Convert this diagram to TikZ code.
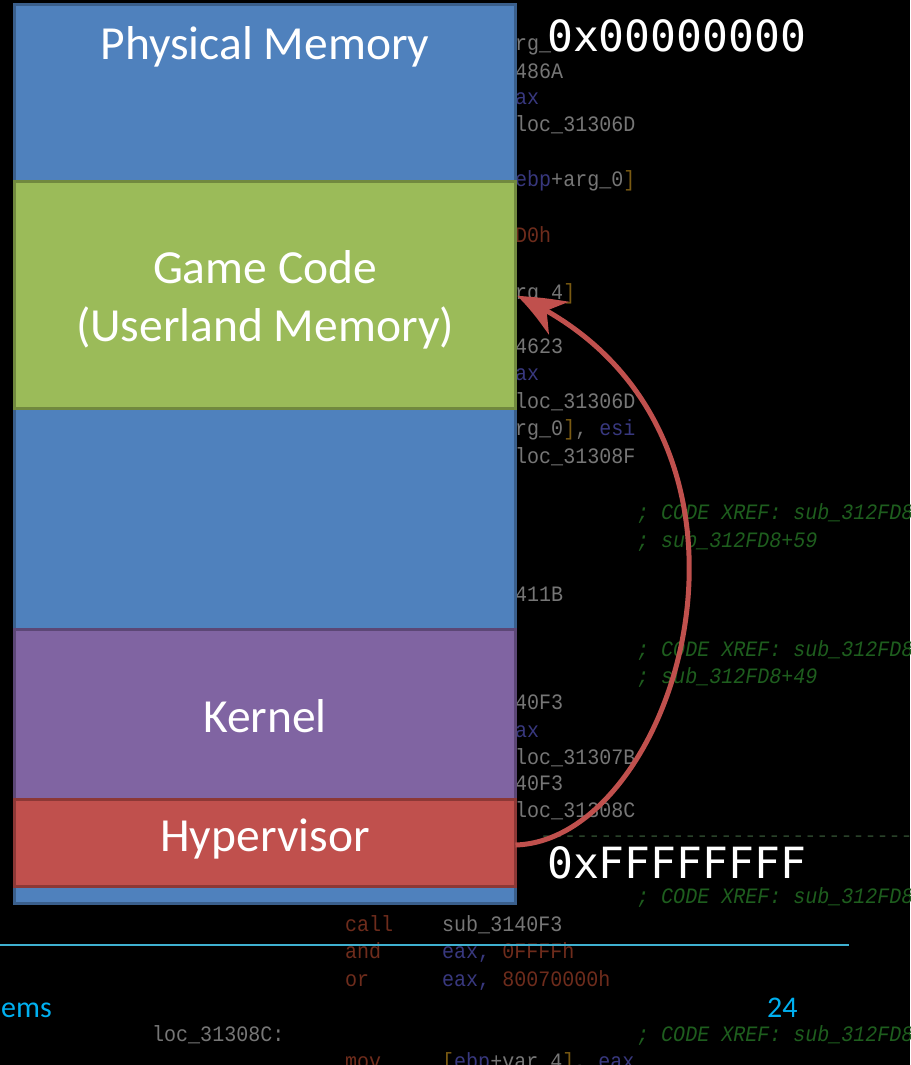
\documentclass[tikz,border=0pt]{standalone}
\usepackage{fontspec}
\setmainfont{Carlito}
\newfontfamily\codefont[FakeStretch=0.91]{Liberation Mono}
\newfontfamily\hexfont{DejaVu Sans Mono}
\usetikzlibrary{arrows.meta,bending}
\definecolor{memblue}{HTML}{4F81BD}
\definecolor{memblueline}{HTML}{3A5F8C}
\definecolor{gamegreen}{HTML}{9BBB59}
\definecolor{gamegreenline}{HTML}{71893F}
\definecolor{kernpurple}{HTML}{8064A2}
\definecolor{kernpurpleline}{HTML}{5C4776}
\definecolor{hypred}{HTML}{C0504D}
\definecolor{hypredline}{HTML}{8C3836}
\definecolor{footcyan}{HTML}{00B0F0}
\definecolor{footline}{HTML}{3FB0D0}
\definecolor{cgray}{HTML}{767676}
\definecolor{cblue}{HTML}{38387E}
\definecolor{cgreen}{HTML}{1E5E1E}
\definecolor{cbrown}{HTML}{6E2C1C}
\definecolor{corange}{HTML}{7A5A12}
\tikzset{
  blk/.style={rectangle, inner sep=0pt, outer sep=0pt, line width=3pt, minimum width=501pt},
  lbl/.style={inner sep=0pt, outer sep=0pt, text=white, align=center, font=\fontsize{47.5}{58}\selectfont},
  hex/.style={inner sep=0pt, anchor=base west, text=white, font=\hexfont\fontsize{43}{43}\selectfont},
  code/.style={inner sep=0pt, anchor=base west, text=cgray, font=\codefont\fontsize{22}{22}\selectfont},
  cmt/.style={code, text=cgreen, font=\codefont\itshape\fontsize{22}{22}\selectfont},
  foot/.style={inner sep=0pt, anchor=base west, text=footcyan, font=\fontsize{30}{30}\selectfont},
  jump/.style={draw=hypred, line width=5pt, -{Stealth[length=48pt,width=38pt,inset=15pt,bend]}}
}
\begin{document}
\begin{tikzpicture}[x=1pt,y=-1pt]
\useasboundingbox (0,0) rectangle (910,1065);
\fill[black] (0,0) rectangle (910,1065);
\clip (0,0) rectangle (910,1065);
% background disassembly
\node[code] (c1) at (515,51) {rg\_};
\node[code] (c2) at (515,78) {486A};
\node[code, text=cblue] (c3) at (515,104) {ax};
\node[code] (c4) at (515,131) {loc\_31306D};
\node[code] (c6) at (515,186) {\textcolor{cblue}{ebp}+arg\_0\textcolor{corange}{]}};
\node[code, text=cbrown] (c8) at (515,242) {D0h};
\node[code] (c10) at (515,299) {rg\_4\textcolor{corange}{]}};
\node[code] (c12) at (515,353) {4623};
\node[code, text=cblue] (c13) at (515,380) {ax};
\node[code] (c14) at (515,408) {loc\_31306D};
\node[code] (c15) at (515,435) {rg\_0\textcolor{corange}{]}, \textcolor{cblue}{esi}};
\node[code] (c16) at (515,463) {loc\_31308F};
\node[cmt] (c18) at (637,519) {; CODE XREF: sub\_312FD8};
\node[cmt] (c19) at (637,547) {; sub\_312FD8+59};
\node[code] (c21) at (515,601) {411B};
\node[cmt] (c23) at (637,656) {; CODE XREF: sub\_312FD8};
\node[cmt] (c24) at (637,683) {; sub\_312FD8+49};
\node[code] (c25) at (515,709) {40F3};
\node[code, text=cblue] (c26) at (515,737) {ax};
\node[code] (c27) at (515,764) {loc\_31307B};
\node[code] (c28) at (515,790) {40F3};
\node[code] (c29) at (515,817) {loc\_31308C};
\node[code, text=cgreen!60!gray!60!black] (c30) at (540,842) {-{}-{}-{}-{}-{}-{}-{}-{}-{}-{}-{}-{}-{}-{}-{}-{}-{}-{}-{}-{}-{}-{}-{}-{}-{}-{}-{}-{}-{}-{}-{}-};
\node[cmt] (c31) at (637,903) {; CODE XREF: sub\_312FD8};
\node[code, text=cbrown] (c32a) at (345,931) {call};
\node[code] (c32b) at (442,931) {sub\_3140F3};
\node[code, text=cbrown] (c33a) at (345,958) {and};
\node[code, text=cblue] (c33b) at (442,958) {eax, \textcolor{cbrown}{0FFFFh}};
\node[code, text=cbrown] (c34a) at (345,986) {or};
\node[code, text=cblue] (c34b) at (442,986) {eax, \textcolor{cbrown}{80070000h}};
\node[code] (c36a) at (152,1041) {loc\_31308C:};
\node[cmt] (c36b) at (637,1041) {; CODE XREF: sub\_312FD8};
\node[code, text=cbrown] (c37a) at (345,1068) {mov};
\node[code] (c37b) at (442,1068) {\textcolor{corange}{[}\textcolor{cblue}{ebp}+var\_4\textcolor{corange}{]}, \textcolor{cblue}{eax}};
% memory column
\node[blk, fill=memblue, draw=memblueline, minimum height=898pt] (mem) at (265,454) {};
\node[lbl] (memlbl) at (265,47) {Physical Memory};
\node[blk, fill=gamegreen, draw=gamegreenline, minimum height=227pt] (game) at (265,294.5) {};
\node[lbl] (gamelbl) at (265,300) {Game Code\\(Userland Memory)};
\node[blk, fill=kernpurple, draw=kernpurpleline, minimum height=170pt] (kern) at (265,714) {};
\node[lbl] (kernlbl) at (265,716) {Kernel};
\node[blk, fill=hypred, draw=hypredline, minimum height=87pt] (hyp) at (265,842.5) {};
\node[lbl] (hyplbl) at (265,839) {Hypervisor};
% addresses
\node[hex] (lo) at (547,52) {0x00000000};
\node[hex] (hi) at (547,878) {0xFFFFFFFF};
% arrow
\draw[jump] ([yshift=-2.5pt]hyp.east) .. controls (680,840) and (805,425) .. ([yshift=-1.5pt,xshift=2pt]game.east);
% footer
\coordinate (fl) at (0,945);
\coordinate (fr) at (849,945);
\draw[footline, line width=2pt] (fl) -- (fr);
\node[foot] (ft1) at (1,1017) {ems};
\node[foot] (ft2) at (767,1017) {24};
\end{tikzpicture}
\end{document}
